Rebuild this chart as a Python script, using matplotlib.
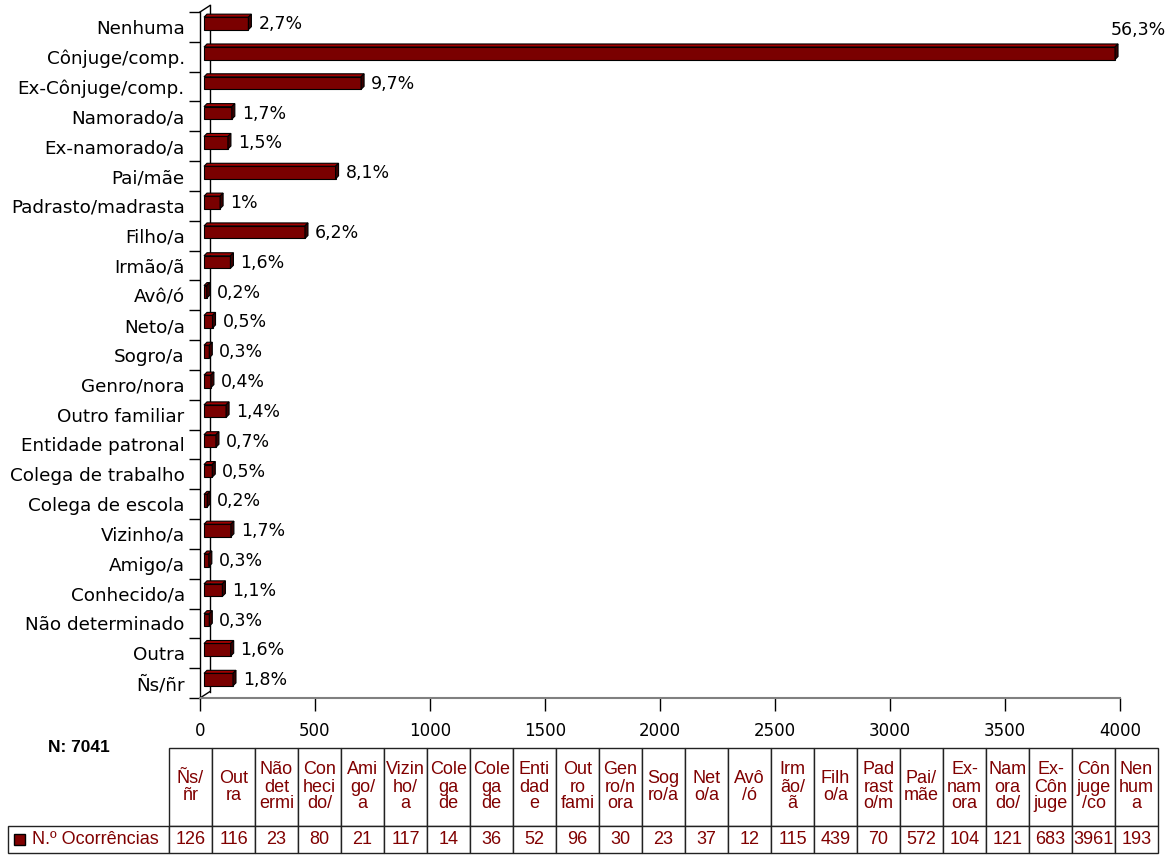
import matplotlib
matplotlib.use("Agg")
import matplotlib.pyplot as plt
from matplotlib.patches import Polygon, Rectangle
from matplotlib.transforms import ScaledTranslation

# categories listed bottom -> top (same order as the table columns)
categories = ["Ñs/ñr", "Outra", "Não determinado", "Conhecido/a", "Amigo/a",
              "Vizinho/a", "Colega de escola", "Colega de trabalho",
              "Entidade patronal", "Outro familiar", "Genro/nora", "Sogro/a",
              "Neto/a", "Avô/ó", "Irmão/ã", "Filho/a", "Padrasto/madrasta",
              "Pai/mãe", "Ex-namorado/a", "Namorado/a", "Ex-Cônjuge/comp.",
              "Cônjuge/comp.", "Nenhuma"]
counts = [126, 116, 23, 80, 21, 117, 14, 36, 52, 96, 30, 23, 37, 12, 115,
          439, 70, 572, 104, 121, 683, 3961, 193]
pct_labels = ["1,8%", "1,6%", "0,3%", "1,1%", "0,3%", "1,7%", "0,2%", "0,5%",
              "0,7%", "1,4%", "0,4%", "0,3%", "0,5%", "0,2%", "1,6%", "6,2%",
              "1%", "8,1%", "1,5%", "1,7%", "9,7%", "56,3%", "2,7%"]
col_headers = ["Ñs/\nñr", "Out\nra", "Não\ndet\nermi", "Con\nheci\ndo/",
               "Ami\ngo/\na", "Vizin\nho/\na", "Cole\nga\nde", "Cole\nga\nde",
               "Enti\ndad\ne", "Out\nro\nfami", "Gen\nro/n\nora", "Sog\nro/a",
               "Net\no/a", "Avô\n/ó", "Irm\não/\nã", "Filh\no/a",
               "Pad\nrast\no/m", "Pai/\nmãe", "Ex-\nnam\nora", "Nam\nora\ndo/",
               "Ex-\nCôn\njuge", "Côn\njuge\n/co", "Nen\nhum\na"]
row_label = "N.º Ocorrências"
total_label = "N: 7041"
xticks = [0, 500, 1000, 1500, 2000, 2500, 3000, 3500, 4000]

RED = "#7a0000"
W, H, DPI = 1175, 856, 100

fig = plt.figure(figsize=(W / DPI, H / DPI), dpi=DPI)
fig.patch.set_facecolor("white")

ax_l, ax_b, ax_w, ax_h = 200 / W, 1 - 698 / H, 920 / W, 686 / H
ax = fig.add_axes([ax_l, ax_b, ax_w, ax_h])
ax.set_xlim(0, 4000)
ax.set_ylim(-0.5, len(categories) - 0.5)

# pixel -> data helpers for the fake 3D look
px_x = 4000 / (ax_w * W)
px_y = len(categories) / (ax_h * H)
shift = ScaledTranslation(4 / DPI, 3.5 / DPI, fig.dpi_scale_trans)
tr = ax.transData + shift
dx, dy = 3 * px_x, 3 * px_y
bh = 0.42

for i, v in enumerate(counts):
    y0, y1 = i - bh / 2, i + bh / 2
    ax.add_patch(Rectangle((0, y0), v, bh, facecolor=RED, edgecolor="black",
                           lw=0.8, transform=tr, zorder=3))
    ax.add_patch(Polygon([(0, y1), (v, y1), (v + dx, y1 + dy), (dx, y1 + dy)],
                         closed=True, facecolor="#a00000", edgecolor="black",
                         lw=0.8, transform=tr, zorder=3))
    ax.add_patch(Polygon([(v, y0), (v + dx, y0 + dy), (v + dx, y1 + dy), (v, y1)],
                         closed=True, facecolor="#3a0000", edgecolor="black",
                         lw=0.8, transform=tr, zorder=3))
    if v > 0.9 * 4000:
        ax.annotate(pct_labels[i], xy=(v, i), xytext=(0, 19),
                    textcoords="offset points", ha="left", va="center",
                    fontsize=12.5, family="DejaVu Sans", color="black",
                    annotation_clip=False)
    else:
        ax.annotate(pct_labels[i], xy=(v, i), xytext=(10, 2),
                    textcoords="offset points", ha="left", va="center",
                    fontsize=12.5, family="DejaVu Sans", color="black")

# axes styling
ax.set_yticks(range(len(categories)))
ax.set_yticklabels(categories, fontsize=13.2, family="DejaVu Sans")
ax.set_yticks([k - 0.5 for k in range(len(categories) + 1)], minor=True)
ax.tick_params(axis="y", which="major", length=0, pad=11)
ax.tick_params(axis="y", which="minor", length=8, width=1, color="black")
ax.set_xticks(xticks)
ax.set_xticklabels([str(t) for t in xticks], fontsize=12, family="DejaVu Sans")
ax.tick_params(axis="x", length=9, width=1, color="black", pad=8)
for s in ["top", "right"]:
    ax.spines[s].set_visible(False)
ax.spines["left"].set_color("black")
ax.spines["left"].set_linewidth(1)
ax.spines["bottom"].set_color("#808080")
ax.spines["bottom"].set_linewidth(1.5)

# back wall of the 3D frame
wx, wy = 10 / (ax_w * W), 6.5 / (ax_h * H)
for xs, ys in [([0, wx], [0, wy]), ([0, wx], [1, 1 + wy]), ([wx, wx], [wy, 1 + wy])]:
    ax.plot(xs, ys, transform=ax.transAxes, color="black", lw=1, clip_on=False)

# data table: first column holds the row label, its header cell is blank
tax = fig.add_axes([8 / W, 3 / H, 1150 / W, 105 / H])
tax.axis("off")
tab = tax.table(cellText=[[row_label] + [str(c) for c in counts]],
                colLabels=[""] + col_headers, cellLoc="center",
                colLoc="center", bbox=[0, 0, 1, 1])
tab.auto_set_font_size(False)
for (r, c), cell in tab.get_celld().items():
    cell.set_height(78 if r == 0 else 27)
    cell.set_width(161 if c == 0 else 43)
    cell.set_edgecolor("#222222")
    cell.set_linewidth(1)
    t = cell.get_text()
    t.set_color("#800000")
    t.set_fontsize(13)
    t.set_family("Liberation Sans")
    t.set_linespacing(1.0)
    if c == 0:
        if r == 0:
            cell.visible_edges = ""
        else:
            cell._loc = "left"
            cell.PAD = 0.15
            t.set_horizontalalignment("left")

tax.add_patch(Rectangle((6 / 1150, 8 / 105), 11 / 1150, 11 / 105,
                        facecolor="#800000", edgecolor="black", lw=1,
                        transform=tax.transAxes, zorder=5, clip_on=False))

fig.text(79 / W, 1 - 747 / H, total_label, ha="center", va="center",
         fontsize=12.5, fontweight="bold", family="Liberation Sans")

fig.savefig("out.png", dpi=DPI, facecolor="white")
